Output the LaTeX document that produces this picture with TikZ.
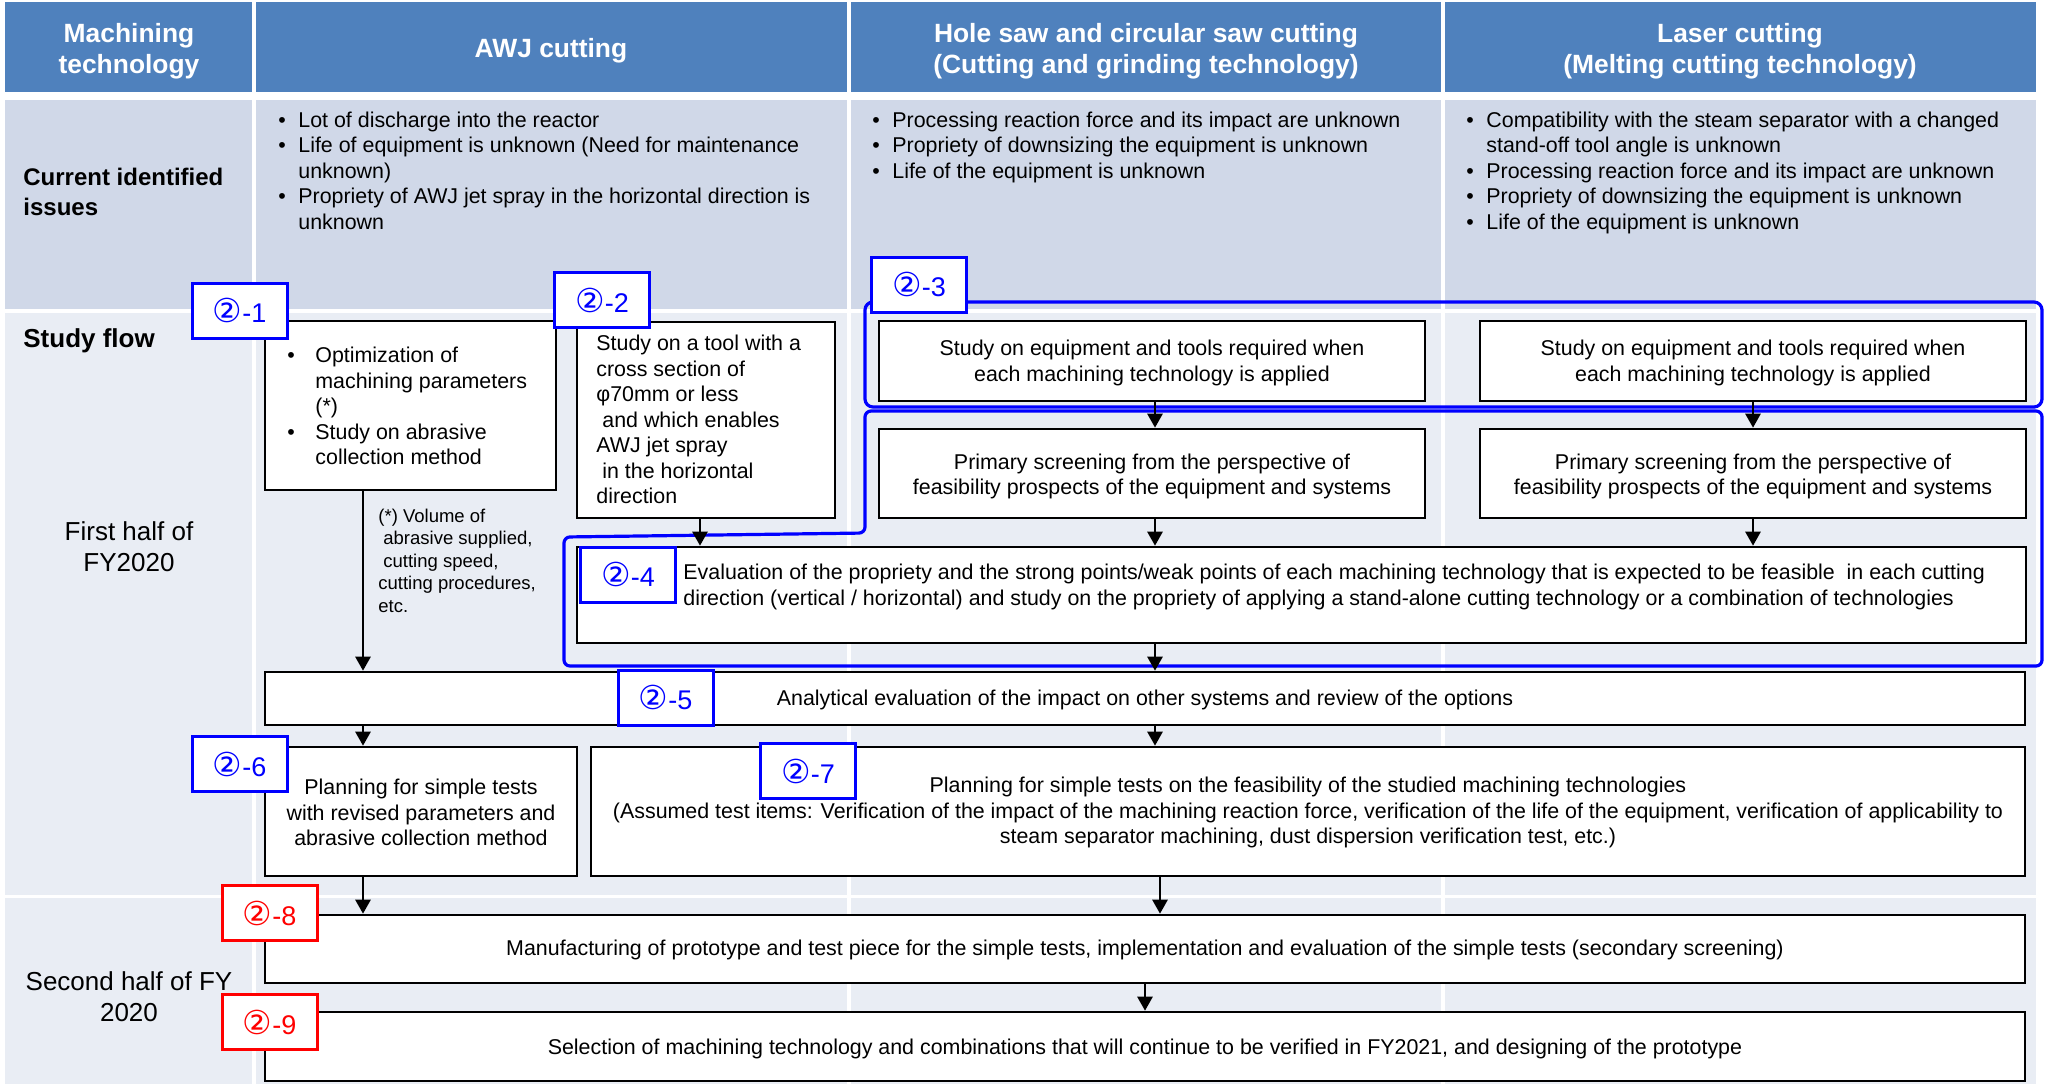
\documentclass[tikz,border=0pt]{standalone}
\usepackage{fontspec}
\setmainfont{Liberation Sans}
\newfontfamily\circfont{DejaVu Sans}
\usetikzlibrary{arrows.meta,fit}
\definecolor{hdrblue}{RGB}{79,129,189}
\definecolor{issbg}{RGB}{208,216,232}
\definecolor{flowbg}{RGB}{233,237,244}
\definecolor{lblblue}{RGB}{0,0,255}
\definecolor{lblred}{RGB}{255,0,0}
\newcommand{\fsz}[2]{\fontsize{#1}{#2}\selectfont}
\newcommand{\cnum}[1]{{\circfont\fontsize{16.5}{18}\selectfont ②}-#1}
\newcommand{\bu}{•}
\begin{document}
\begin{tikzpicture}[x=0.5pt,y=-0.5pt,
  box/.style={draw=black, line width=1.3pt, fill=white, inner sep=0pt},
  boxtext/.style={inner sep=0pt, align=center, font=\fsz{10.7}{12.75}},
  body/.style={inner sep=0pt, font=\fsz{10.7}{12.75}, anchor=base west},
  note/.style={inner sep=0pt, font=\fsz{9.25}{11.25}, anchor=base west},
  hdr/.style={inner sep=0pt, font=\bfseries\fsz{13.2}{15.5}, text=white, align=center},
  rowhead/.style={inner sep=0pt, font=\fsz{13}{15.5}, align=center},
  lbl/.style={draw=lblblue, line width=1.5pt, fill=white, text=lblblue,
    minimum width=47.5pt, minimum height=27.5pt, inner sep=0pt, font=\fsz{13.5}{16}},
  lblr/.style={lbl, draw=lblred, text=lblred},
  outl/.style={draw=lblblue, line width=1.6pt},
  arr/.style={line width=1.3pt, -{Triangle[length=7pt,width=7.5pt]}}
]
\useasboundingbox (0,0) rectangle (2045,1084);
% backgrounds
\foreach \ya/\yb/\c in {2/92/hdrblue,100/309/issbg,313/895/flowbg,898/1084/flowbg}{
  \foreach \xa/\xb in {5/252,256/847,851/1441,1445/2036}{
    \fill[\c] (\xa,\ya) rectangle (\xb,\yb);
  }
}
% headers
\node[hdr] (h0) at (129,51) {Machining\\technology};
\node[hdr] (h1) at (551,51) {AWJ cutting};
\node[hdr] (h2) at (1146,51) {Hole saw and circular saw cutting\\(Cutting and grinding technology)};
\node[hdr] (h3) at (1740,51) {Laser cutting\\(Melting cutting technology)};
% row heads
\node[inner sep=0pt, anchor=base west, font=\bfseries\fsz{12}{15}] (rh1) at (23,185.5)
  {\begin{tabular}[t]{@{}l@{}}Current identified\\issues\end{tabular}};
\node[inner sep=0pt, anchor=base west, font=\bfseries\fsz{13}{15.5}] (rh2) at (23,347) {Study flow};
\node[rowhead] (rh3) at (129,547) {First half of\\FY2020};
\node[rowhead] (rh4) at (129,997) {Second half of FY\\2020};
% issues
\node[body] (i1) at (278,127) {\begin{tabular}[t]{@{}p{10pt}@{}l@{}}
\bu & Lot of discharge into the reactor\\
\bu & Life of equipment is unknown (Need for maintenance\\
 & unknown)\\
\bu & Propriety of AWJ jet spray in the horizontal direction is\\
 & unknown\end{tabular}};
\node[body] (i2) at (872,127) {\begin{tabular}[t]{@{}p{10pt}@{}l@{}}
\bu & Processing reaction force and its impact are unknown\\
\bu & Propriety of downsizing the equipment is unknown\\
\bu & Life of the equipment is unknown\end{tabular}};
\node[body] (i3) at (1466,127) {\begin{tabular}[t]{@{}p{10pt}@{}l@{}}
\bu & Compatibility with the steam separator with a changed\\
 & stand-off tool angle is unknown\\
\bu & Processing reaction force and its impact are unknown\\
\bu & Propriety of downsizing the equipment is unknown\\
\bu & Life of the equipment is unknown\end{tabular}};
% boxes
\node[box, fit={(265,321) (556,490)}] (b1) {};
\node[box, fit={(577,322) (835,518)}] (b2) {};
\node[box, fit={(879,321) (1425,401)}] (e1) {};
\node[box, fit={(1480,321) (2026,401)}] (e2) {};
\node[box, fit={(879,429) (1425,518)}] (p1) {};
\node[box, fit={(1480,429) (2026,518)}] (p2) {};
\node[box, fit={(577,547) (2026,643)}] (b4) {};
\node[box, fit={(265,672) (2025,725)}] (b5) {};
\node[box, fit={(265,747) (577,876)}] (b6) {};
\node[box, fit={(591,747) (2025,876)}] (b7) {};
\node[box, fit={(265,915) (2025,983)}] (b8) {};
\node[box, fit={(265,1012) (2025,1081)}] (b9) {};
% box texts
\node[boxtext] (e1t) at ([yshift=-1pt]e1.center) {Study on equipment and tools required when\\each machining technology is applied};
\node[boxtext] (e2t) at ([yshift=-1pt]e2.center) {Study on equipment and tools required when\\each machining technology is applied};
\node[boxtext] (p1t) at ([yshift=-1.5pt]p1.center) {Primary screening from the perspective of\\feasibility prospects of the equipment and systems};
\node[boxtext] (p2t) at ([yshift=-1.5pt]p2.center) {Primary screening from the perspective of\\feasibility prospects of the equipment and systems};
\node[boxtext] (b5t) at ([yshift=-0.5pt]b5.center) {Analytical evaluation of the impact on other systems and review of the options};
\node[boxtext] (b6t) at ([yshift=-0.5pt]b6.center) {Planning for simple tests\\with revised parameters and\\abrasive collection method};
\node[boxtext] (b7t) at ([yshift=-0.5pt]b7.center) {Planning for simple tests on the feasibility of the studied machining technologies\\(Assumed test items: Verification of the impact of the machining reaction force, verification of the life of the equipment, verification of applicability to\\steam separator machining, dust dispersion verification test, etc.)};
\node[boxtext] (b8t) at ([yshift=-0.5pt]b8.center) {Manufacturing of prototype and test piece for the simple tests, implementation and evaluation of the simple tests (secondary screening)};
\node[boxtext] (b9t) at ([yshift=-1pt]b9.center) {Selection of machining technology and combinations that will continue to be verified in FY2021, and designing of the prototype};
\node[body] (t1) at (287,362.5) {\begin{tabular}[t]{@{}p{14pt}@{}l@{}}
\bu & Optimization of\\
 & machining parameters\\
 & (*)\\
\bu & Study on abrasive\\
 & collection method\end{tabular}};
\node[body] (t2) at (596,350.5) {\begin{tabular}[t]{@{}l@{}}
Study on a tool with a\\
cross section of\\
φ70mm or less\\
\hspace{3pt}and which enables\\
AWJ jet spray\\
\hspace{3pt}in the horizontal\\
direction\end{tabular}};
\node[body] (t4) at (683,579.5) {\begin{tabular}[t]{@{}l@{}}
Evaluation of the propriety and the strong points/weak points of each machining technology that is expected to be feasible\ \ in each cutting\\
direction (vertical / horizontal) and study on the propriety of applying a stand-alone cutting technology or a combination of technologies\end{tabular}};
\node[note] (fn) at (378,522) {\begin{tabular}[t]{@{}l@{}}
(*) Volume of\\
\hspace{2.5pt}abrasive supplied,\\
\hspace{2.5pt}cutting speed,\\
cutting procedures,\\
etc.\end{tabular}};
% outlines
\draw[outl, rounded corners=4pt] (865,302) rectangle (2042,407);
\draw[outl, rounded corners=3pt] (865,411) -- (2042,411) -- (2042,666) -- (564,666) -- (564,537) -- (865,533) -- cycle;
% arrow columns
\coordinate (xa) at (363,0);
\coordinate (xb) at (700,0);
\coordinate (xc) at (1155,0);
\coordinate (xd) at (1753,0);
\coordinate (xe) at (1145,0);
\coordinate (xf) at (1160,0);
% arrows
\draw[arr] (b1.south -| xa) -- (b5.north -| xa);
\draw[arr] (b2.south -| xb) -- (b4.north -| xb);
\draw[arr] (e1.south -| xc) -- (p1.north -| xc);
\draw[arr] (e2.south -| xd) -- (p2.north -| xd);
\draw[arr] (p1.south -| xc) -- (b4.north -| xc);
\draw[arr] (p2.south -| xd) -- (b4.north -| xd);
\draw[arr] (b4.south -| xc) -- (b5.north -| xc);
\draw[arr] (b5.south -| xa) -- (b6.north -| xa);
\draw[arr] (b5.south -| xc) -- (b7.north -| xc);
\draw[arr] (b6.south -| xa) -- (b8.north -| xa);
\draw[arr] (b7.south -| xf) -- (b8.north -| xf);
\draw[arr] (b8.south -| xe) -- (b9.north -| xe);
% labels
\node[lbl] (l1) at (239.5,310.5) {\cnum{1}};
\node[lbl] (l2) at (602,300) {\cnum{2}};
\node[lbl] (l3) at (919,284.5) {\cnum{3}};
\node[lbl] (l4) at (628,574.5) {\cnum{4}};
\node[lbl] (l5) at (665.5,697.5) {\cnum{5}};
\node[lbl] (l6) at (239.5,764) {\cnum{6}};
\node[lbl] (l7) at (808,771) {\cnum{7}};
\node[lblr] (l8) at (269.5,913) {\cnum{8}};
\node[lblr] (l9) at (269.5,1022) {\cnum{9}};
\end{tikzpicture}
\end{document}
